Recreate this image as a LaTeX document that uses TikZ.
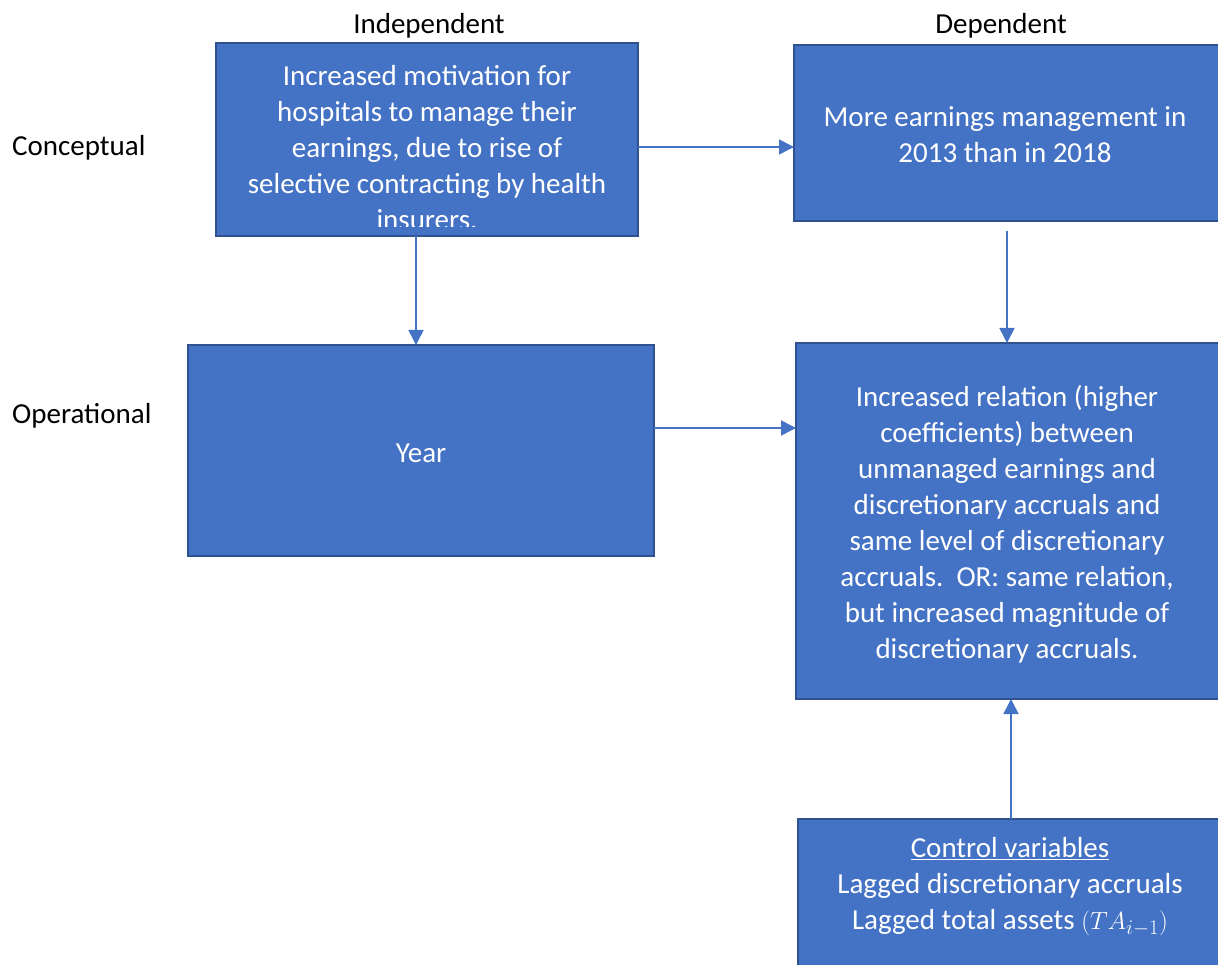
\documentclass[tikz,border=0pt]{standalone}
\usepackage{fontspec}
\setmainfont{Carlito}
\usetikzlibrary{arrows.meta}
\definecolor{boxfill}{HTML}{4472C4}
\definecolor{boxline}{HTML}{2F528F}
\definecolor{arrowcol}{HTML}{4472C4}
\begin{document}
\begin{tikzpicture}[x=1pt,y=-1pt,
  box/.style={draw=boxline, line width=2.5pt, fill=boxfill, anchor=north west,
    inner sep=0pt, outer sep=0pt},
  boxtext/.style={text=white, align=center, inner sep=0pt,
    font=\fontsize{29}{36}\selectfont},
  lbl/.style={text=black, inner sep=0pt, font=\fontsize{29}{36}\selectfont},
  arr/.style={draw=arrowcol, line width=1.6pt,
    -{Triangle[length=15pt,width=15pt]}}]
\useasboundingbox (0,0) rectangle (1218,965);

% column and row headings
\node[lbl] (hind) at (429,26) {Independent};
\node[lbl] (hdep) at (1001,26) {Dependent};
\node[lbl, anchor=west] (hcon) at (12,148) {Conceptual};
\node[lbl, anchor=west] (hop) at (12,416) {Operational};

% boxes
\node[box, minimum width=422pt, minimum height=193pt] (A) at (216,43) {};
\node[box, minimum width=432pt, minimum height=176pt] (B) at (794,45) {};
\node[box, minimum width=466pt, minimum height=211pt] (C) at (188,345) {};
\node[box, minimum width=430pt, minimum height=356pt] (D) at (796,343) {};
\node[box, minimum width=428pt, minimum height=160pt] (E) at (798,819) {};

% box texts (the last line of the first box runs past its lower edge)
\begin{scope}
  \clip (218,45) rectangle (636,227);
  \node[boxtext] (tA) at (427,148) {Increased motivation for\\hospitals to manage their\\earnings, due to rise of\\selective contracting by health\\insurers.};
\end{scope}
\node[boxtext] (tB) at (1005,135) {More earnings management in\\2013 than in 2018};
\node[boxtext] (tC) at (421,453) {Year};
\node[boxtext] (tD) at (1007,524) {Increased relation (higher\\coefficients) between\\unmanaged earnings and\\discretionary accruals and\\same level of discretionary\\accruals.\ \ OR: same relation,\\but increased magnitude of\\discretionary accruals.};
\node[boxtext] (tE) at (1010,887) {\underline{Control variables}\\Lagged discretionary accruals\\Lagged total assets $(TA_{i-1})$};

% connectors
\draw[arr] (A.east |- 0,147) -- (B.west |- 0,147);
\draw[arr] (A.south -| 416,0) -- (C.north -| 416,0);
\draw[arr] ([yshift=-10pt]B.south -| 1007,0) -- (D.north -| 1007,0);
\draw[arr] (C.east |- 0,428) -- (D.west |- 0,428);
\draw[arr] (E.north -| 1011,0) -- (D.south -| 1011,0);
\end{tikzpicture}
\end{document}
